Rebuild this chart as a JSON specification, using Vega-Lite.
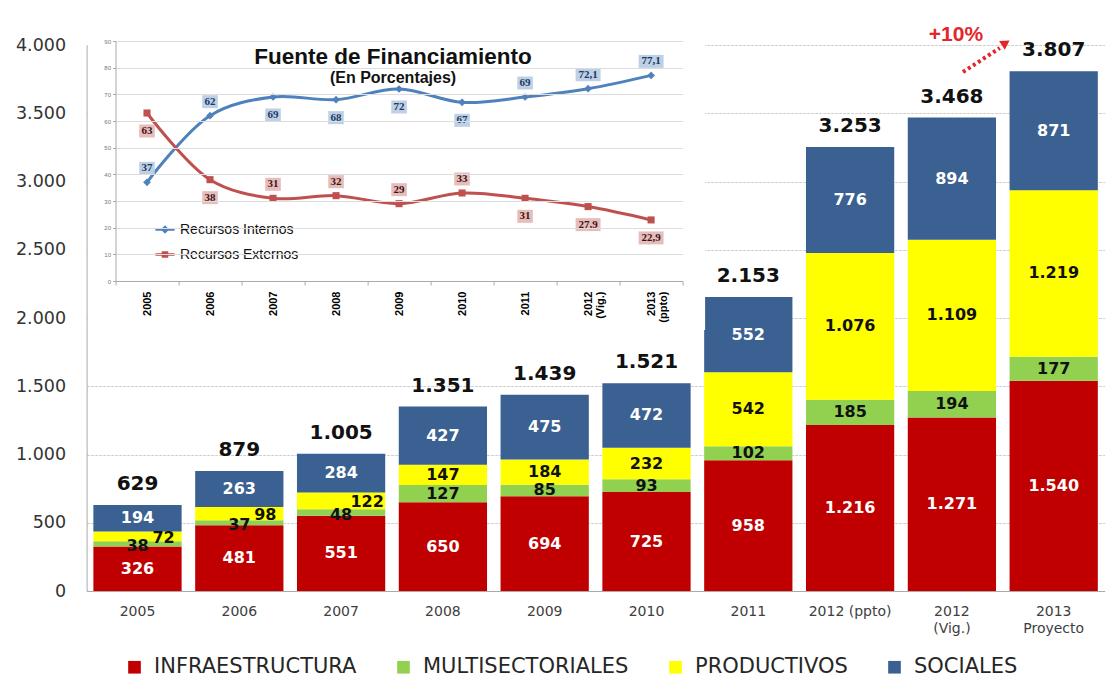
{
  "$schema": "https://vega.github.io/schema/vega-lite/v6.json",
  "width": 1018,
  "height": 546,
  "autosize": {"type": "none"},
  "padding": {"left": 86.6, "top": 45, "right": 4.4, "bottom": 88},
  "background": "white",
  "config": {
    "view": {"stroke": null},
    "axis": {"titleOpacity": 0},
    "locale": {"number": {"decimal": ",", "thousands": ".", "grouping": [3], "currency": ["", ""]}}
  },
  "datasets": {
    "sectores": [
      {"anio": "2005", "sector": "INFRAESTRUCTURA", "valor": 326},
      {"anio": "2005", "sector": "MULTISECTORIALES", "valor": 38},
      {"anio": "2005", "sector": "PRODUCTIVOS", "valor": 72},
      {"anio": "2005", "sector": "SOCIALES", "valor": 194},
      {"anio": "2006", "sector": "INFRAESTRUCTURA", "valor": 481},
      {"anio": "2006", "sector": "MULTISECTORIALES", "valor": 37},
      {"anio": "2006", "sector": "PRODUCTIVOS", "valor": 98},
      {"anio": "2006", "sector": "SOCIALES", "valor": 263},
      {"anio": "2007", "sector": "INFRAESTRUCTURA", "valor": 551},
      {"anio": "2007", "sector": "MULTISECTORIALES", "valor": 48},
      {"anio": "2007", "sector": "PRODUCTIVOS", "valor": 122},
      {"anio": "2007", "sector": "SOCIALES", "valor": 284},
      {"anio": "2008", "sector": "INFRAESTRUCTURA", "valor": 650},
      {"anio": "2008", "sector": "MULTISECTORIALES", "valor": 127},
      {"anio": "2008", "sector": "PRODUCTIVOS", "valor": 147},
      {"anio": "2008", "sector": "SOCIALES", "valor": 427},
      {"anio": "2009", "sector": "INFRAESTRUCTURA", "valor": 694},
      {"anio": "2009", "sector": "MULTISECTORIALES", "valor": 85},
      {"anio": "2009", "sector": "PRODUCTIVOS", "valor": 184},
      {"anio": "2009", "sector": "SOCIALES", "valor": 475},
      {"anio": "2010", "sector": "INFRAESTRUCTURA", "valor": 725},
      {"anio": "2010", "sector": "MULTISECTORIALES", "valor": 93},
      {"anio": "2010", "sector": "PRODUCTIVOS", "valor": 232},
      {"anio": "2010", "sector": "SOCIALES", "valor": 472},
      {"anio": "2011", "sector": "INFRAESTRUCTURA", "valor": 958},
      {"anio": "2011", "sector": "MULTISECTORIALES", "valor": 102},
      {"anio": "2011", "sector": "PRODUCTIVOS", "valor": 542},
      {"anio": "2011", "sector": "SOCIALES", "valor": 552},
      {"anio": "2012 (ppto)", "sector": "INFRAESTRUCTURA", "valor": 1216},
      {"anio": "2012 (ppto)", "sector": "MULTISECTORIALES", "valor": 185},
      {"anio": "2012 (ppto)", "sector": "PRODUCTIVOS", "valor": 1076},
      {"anio": "2012 (ppto)", "sector": "SOCIALES", "valor": 776},
      {"anio": "2012 (Vig.)", "sector": "INFRAESTRUCTURA", "valor": 1271},
      {"anio": "2012 (Vig.)", "sector": "MULTISECTORIALES", "valor": 194},
      {"anio": "2012 (Vig.)", "sector": "PRODUCTIVOS", "valor": 1109},
      {"anio": "2012 (Vig.)", "sector": "SOCIALES", "valor": 894},
      {"anio": "2013 Proyecto", "sector": "INFRAESTRUCTURA", "valor": 1540},
      {"anio": "2013 Proyecto", "sector": "MULTISECTORIALES", "valor": 177},
      {"anio": "2013 Proyecto", "sector": "PRODUCTIVOS", "valor": 1219},
      {"anio": "2013 Proyecto", "sector": "SOCIALES", "valor": 871}
    ],
    "totales": [
      {"anio": "2005", "total": 629},
      {"anio": "2006", "total": 879},
      {"anio": "2007", "total": 1005},
      {"anio": "2008", "total": 1351},
      {"anio": "2009", "total": 1439},
      {"anio": "2010", "total": 1521},
      {"anio": "2011", "total": 2153},
      {"anio": "2012 (ppto)", "total": 3253},
      {"anio": "2012 (Vig.)", "total": 3468},
      {"anio": "2013 Proyecto", "total": 3807}
    ],
    "fuente": [
      {"anio": "2005", "serie": "Recursos Internos", "pct": 37},
      {"anio": "2006", "serie": "Recursos Internos", "pct": 62},
      {"anio": "2007", "serie": "Recursos Internos", "pct": 69},
      {"anio": "2008", "serie": "Recursos Internos", "pct": 68},
      {"anio": "2009", "serie": "Recursos Internos", "pct": 72},
      {"anio": "2010", "serie": "Recursos Internos", "pct": 67},
      {"anio": "2011", "serie": "Recursos Internos", "pct": 69},
      {"anio": "2012 (Vig.)", "serie": "Recursos Internos", "pct": 72.1},
      {"anio": "2013 (ppto)", "serie": "Recursos Internos", "pct": 77.1},
      {"anio": "2005", "serie": "Recursos Externos", "pct": 63},
      {"anio": "2006", "serie": "Recursos Externos", "pct": 38},
      {"anio": "2007", "serie": "Recursos Externos", "pct": 31},
      {"anio": "2008", "serie": "Recursos Externos", "pct": 32},
      {"anio": "2009", "serie": "Recursos Externos", "pct": 29},
      {"anio": "2010", "serie": "Recursos Externos", "pct": 33},
      {"anio": "2011", "serie": "Recursos Externos", "pct": 31},
      {"anio": "2012 (Vig.)", "serie": "Recursos Externos", "pct": 27.9},
      {"anio": "2013 (ppto)", "serie": "Recursos Externos", "pct": 22.9}
    ]
  },
  "layer": [
    {
      "layer": [
        {
          "data": {"name": "sectores"},
          "transform": [
            {"calculate": "indexof(['INFRAESTRUCTURA','MULTISECTORIALES','PRODUCTIVOS','SOCIALES'], datum.sector)", "as": "orden"},
            {"stack": "valor", "groupby": ["anio"], "sort": [{"field": "orden", "order": "ascending"}], "as": ["v0", "v1"]},
            {"calculate": "(datum.v0 + datum.v1) / 2", "as": "vm"}
          ],
          "layer": [
            {
              "mark": {"type": "bar"},
              "encoding": {
                "x": {
                  "field": "anio", "type": "nominal", "title": null,
                  "scale": {"type": "band", "domain": ["2005","2006","2007","2008","2009","2010","2011","2012 (ppto)","2012 (Vig.)","2013 Proyecto"], "paddingInner": 0.133, "paddingOuter": 0.0665},
                  "axis": {"title": null, "labelAngle": 0, "ticks": false, "labelPadding": 13, "labelFont": "DejaVu Sans", "labelFontSize": 14, "labelColor": "#404040", "labelLineHeight": 17, "domainColor": "#aaaaaa", "labelExpr": "datum.value == '2012 (ppto)' ? datum.value : split(datum.value, ' ')"}
                },
                "y": {
                  "field": "v1", "type": "quantitative", "title": null,
                  "scale": {"domain": [0, 4000], "nice": false},
                  "axis": {"title": null, "values": [0,500,1000,1500,2000,2500,3000,3500,4000], "format": ",.0f", "grid": true, "gridColor": "#d0d0d0", "gridDash": [3, 1], "ticks": false, "domainColor": "#aaaaaa", "labelPadding": 21, "labelFont": "DejaVu Sans", "labelFontSize": 17.5, "labelColor": "#333333"}
                },
                "y2": {"field": "v0"},
                "color": {
                  "field": "sector", "type": "nominal",
                  "scale": {"domain": ["INFRAESTRUCTURA","MULTISECTORIALES","PRODUCTIVOS","SOCIALES"], "range": ["#c00000","#92d050","#ffff00","#3a6191"]},
                  "legend": {"orient": "none", "legendX": 37.4, "legendY": 611.5, "direction": "horizontal", "columns": 4, "title": null, "symbolType": "square", "symbolSize": 160, "symbolStrokeWidth": 0, "labelFont": "DejaVu Sans", "labelFontSize": 21, "labelColor": "#262626", "labelOffset": 9, "columnPadding": 36, "labelLimit": 400}
                }
              }
            },
            {
              "transform": [{"filter": "!(indexof(['2005','2006','2007'], datum.anio) >= 0 && (datum.sector == 'MULTISECTORIALES' || datum.sector == 'PRODUCTIVOS'))"}],
              "mark": {"type": "text", "font": "DejaVu Sans", "fontWeight": "bold", "fontSize": 16, "baseline": "middle", "align": "center"},
              "encoding": {
                "x": {"field": "anio", "type": "nominal"},
                "y": {"field": "vm", "type": "quantitative"},
                "text": {"field": "valor", "type": "quantitative", "format": ",.0f"},
                "color": {"condition": {"test": "datum.sector == 'INFRAESTRUCTURA' || datum.sector == 'SOCIALES'", "value": "#ffffff"}, "value": "#111111"}
              }
            },
            {
              "transform": [{"filter": "indexof(['2005','2006','2007'], datum.anio) >= 0 && datum.sector == 'MULTISECTORIALES'"}],
              "mark": {"type": "text", "font": "DejaVu Sans", "fontWeight": "bold", "fontSize": 16, "baseline": "middle", "align": "center", "dy": 2, "color": "#111111"},
              "encoding": {
                "x": {"field": "anio", "type": "nominal"},
                "y": {"field": "vm", "type": "quantitative"},
                "text": {"field": "valor", "type": "quantitative", "format": ",.0f"}
              }
            },
            {
              "transform": [{"filter": "indexof(['2005','2006','2007'], datum.anio) >= 0 && datum.sector == 'PRODUCTIVOS'"}],
              "mark": {"type": "text", "font": "DejaVu Sans", "fontWeight": "bold", "fontSize": 16, "baseline": "middle", "align": "center", "dx": 26, "dy": 1.5, "color": "#111111"},
              "encoding": {
                "x": {"field": "anio", "type": "nominal"},
                "y": {"field": "vm", "type": "quantitative"},
                "text": {"field": "valor", "type": "quantitative", "format": ",.0f"}
              }
            }
          ]
        },
        {
          "data": {"name": "totales"},
          "mark": {"type": "text", "font": "DejaVu Sans", "fontWeight": "bold", "fontSize": 20, "baseline": "alphabetic", "align": "center", "dy": -15, "color": "#111111"},
          "encoding": {
            "x": {"field": "anio", "type": "nominal"},
            "y": {"field": "total", "type": "quantitative"},
            "text": {"field": "total", "type": "quantitative", "format": ",.0f"}
          }
        },
        {
          "data": {"values": [{}]},
          "layer": [
            {
              "mark": {"type": "text", "text": "+10%", "font": "Liberation Sans", "fontWeight": "bold", "fontSize": 21, "color": "#e3262b", "baseline": "middle", "align": "center", "dx": 4, "dy": 2},
              "encoding": {
                "x": {"datum": "2012 (Vig.)", "type": "nominal"},
                "y": {"datum": 4088, "type": "quantitative"}
              }
            },
            {
              "mark": {"type": "rule", "color": "#e3262b", "strokeWidth": 4, "strokeDash": [3, 3]},
              "encoding": {
                "x": {"datum": "2012 (Vig.)", "type": "nominal", "bandPosition": 0.625},
                "x2": {"datum": "2012 (Vig.)", "bandPosition": 1.043},
                "y": {"datum": 3802, "type": "quantitative"},
                "y2": {"datum": 3978}
              }
            },
            {
              "mark": {"type": "point", "shape": "triangle-right", "filled": true, "opacity": 1, "color": "#e3262b", "size": 110, "angle": -33},
              "encoding": {
                "x": {"datum": "2012 (Vig.)", "type": "nominal", "bandPosition": 1.11},
                "y": {"datum": 4015, "type": "quantitative"}
              }
            }
          ]
        }
      ]
    },
    {
      "data": {"name": "fuente"},
      "layer": [
        {
          "data": {"values": [{}]},
          "mark": {"type": "rect", "fill": "#ffffff"},
          "encoding": {
            "x": {
              "datum": "2005", "type": "nominal", "bandPosition": -0.437, "title": null,
              "scale": {"type": "band", "domain": ["2005","2006","2007","2008","2009","2010","2011","2012 (Vig.)","2013 (ppto)"], "range": [28.9, 596], "paddingInner": 0, "paddingOuter": 0},
              "axis": {"title": null, "orient": "bottom", "offset": -310, "zindex": 1, "labelAngle": -90, "labelExpr": "datum.value ? split(datum.value, ' ') : ''", "labelFont": "Liberation Sans", "labelFontWeight": "bold", "labelFontSize": 11, "labelColor": "#000000", "labelPadding": 6, "labelLineHeight": 12, "tickBand": "extent", "tickSize": 4, "tickColor": "#aaaaaa", "domainColor": "#aaaaaa"}
            },
            "x2": {"datum": "2013 (ppto)", "bandPosition": 1.357},
            "y": {
              "datum": -18.4, "type": "quantitative", "title": null,
              "scale": {"domain": [0, 90], "range": [236, -4], "nice": false, "zero": false},
              "axis": {"title": null, "orient": "left", "offset": -28.9, "zindex": 1, "values": [0,10,20,30,40,50,60,70,80,90], "grid": true, "gridColor": "#dddddd", "tickSize": 3, "tickColor": "#aaaaaa", "domainColor": "#aaaaaa", "labelFontSize": 6, "labelColor": "#777777", "labelPadding": 2}
            },
            "y2": {"datum": 97}
          }
        },
        {
          "transform": [{"filter": "datum.serie == 'Recursos Internos'"}],
          "mark": {"type": "line", "color": "#4f81bd", "strokeWidth": 3, "interpolate": "catmull-rom"},
          "encoding": {"x": {"field": "anio", "type": "nominal", "title": null}, "y": {"field": "pct", "type": "quantitative", "title": null}}
        },
        {
          "transform": [{"filter": "datum.serie == 'Recursos Externos'"}],
          "mark": {"type": "line", "color": "#c0504d", "strokeWidth": 3, "interpolate": "catmull-rom"},
          "encoding": {"x": {"field": "anio", "type": "nominal", "title": null}, "y": {"field": "pct", "type": "quantitative", "title": null}}
        },
        {
          "transform": [{"filter": "datum.serie == 'Recursos Internos'"}],
          "mark": {"type": "point", "shape": "diamond", "filled": true, "opacity": 1, "color": "#4f81bd", "size": 60},
          "encoding": {"x": {"field": "anio", "type": "nominal", "title": null}, "y": {"field": "pct", "type": "quantitative", "title": null}}
        },
        {
          "transform": [{"filter": "datum.serie == 'Recursos Externos'"}],
          "mark": {"type": "point", "shape": "square", "filled": true, "opacity": 1, "color": "#c0504d", "size": 50},
          "encoding": {"x": {"field": "anio", "type": "nominal", "title": null}, "y": {"field": "pct", "type": "quantitative", "title": null}}
        },
        {
          "transform": [{"filter": "(datum.serie == 'Recursos Internos') == (indexof(['2007','2008','2009','2010'], datum.anio) < 0)"}],
          "mark": {"type": "point", "filled": true, "opacity": 0.95, "strokeWidth": 0, "size": 169, "yOffset": -14},
          "encoding": {
            "x": {"field": "anio", "type": "nominal", "title": null},
            "y": {"field": "pct", "type": "quantitative", "title": null},
            "shape": {"condition": {"test": "datum.pct % 1 != 0", "value": "M-1.92,-1L1.92,-1L1.92,1L-1.92,1Z"}, "value": "M-1.2,-1L1.2,-1L1.2,1L-1.2,1Z"},
            "color": {"condition": {"test": "datum.serie == 'Recursos Internos'", "value": "#b9cde5"}, "value": "#e6b9b8"}
          }
        },
        {
          "transform": [{"filter": "(datum.serie == 'Recursos Internos') == (indexof(['2007','2008','2009','2010'], datum.anio) < 0)"}],
          "mark": {"type": "text", "font": "Liberation Serif", "fontWeight": "bold", "fontSize": 11, "baseline": "middle", "align": "center", "dy": -14},
          "encoding": {
            "x": {"field": "anio", "type": "nominal", "title": null},
            "y": {"field": "pct", "type": "quantitative", "title": null},
            "text": {"field": "pct", "type": "quantitative", "format": ".1~f"},
            "color": {"condition": {"test": "datum.serie == 'Recursos Internos'", "value": "#203864"}, "value": "#3d1514"}
          }
        },
        {
          "transform": [{"filter": "(datum.serie == 'Recursos Internos') != (indexof(['2007','2008','2009','2010'], datum.anio) < 0)"}],
          "mark": {"type": "point", "filled": true, "opacity": 0.95, "strokeWidth": 0, "size": 169, "yOffset": 18},
          "encoding": {
            "x": {"field": "anio", "type": "nominal", "title": null},
            "y": {"field": "pct", "type": "quantitative", "title": null},
            "shape": {"condition": {"test": "datum.pct % 1 != 0", "value": "M-1.92,-1L1.92,-1L1.92,1L-1.92,1Z"}, "value": "M-1.2,-1L1.2,-1L1.2,1L-1.2,1Z"},
            "color": {"condition": {"test": "datum.serie == 'Recursos Internos'", "value": "#b9cde5"}, "value": "#e6b9b8"}
          }
        },
        {
          "transform": [{"filter": "(datum.serie == 'Recursos Internos') != (indexof(['2007','2008','2009','2010'], datum.anio) < 0)"}],
          "mark": {"type": "text", "font": "Liberation Serif", "fontWeight": "bold", "fontSize": 11, "baseline": "middle", "align": "center", "dy": 18},
          "encoding": {
            "x": {"field": "anio", "type": "nominal", "title": null},
            "y": {"field": "pct", "type": "quantitative", "title": null},
            "text": {"field": "pct", "type": "quantitative", "format": ".1~f"},
            "color": {"condition": {"test": "datum.serie == 'Recursos Internos'", "value": "#203864"}, "value": "#3d1514"}
          }
        },
        {
          "data": {"values": [{}]},
          "layer": [
            {
              "mark": {"type": "text", "text": "Fuente de Financiamiento", "font": "Liberation Sans", "fontWeight": "bold", "fontSize": 22.5, "color": "#111111", "baseline": "middle", "align": "center", "dx": -6},
              "encoding": {"x": {"datum": "2009", "type": "nominal", "title": null}, "y": {"datum": 84, "type": "quantitative", "title": null}}
            },
            {
              "mark": {"type": "text", "text": "(En Porcentajes)", "font": "Liberation Sans", "fontWeight": "bold", "fontSize": 16, "color": "#111111", "baseline": "middle", "align": "center", "dx": -6},
              "encoding": {"x": {"datum": "2009", "type": "nominal", "title": null}, "y": {"datum": 76, "type": "quantitative", "title": null}}
            }
          ]
        },
        {
          "transform": [{"filter": "false"}],
          "mark": {"type": "point", "filled": true, "opacity": 1},
          "encoding": {
            "x": {"field": "anio", "type": "nominal", "title": null},
            "y": {"field": "pct", "type": "quantitative", "title": null},
            "color": {
              "field": "serie", "type": "nominal",
              "scale": {"domain": ["Recursos Internos", "Recursos Externos"], "range": ["#4f81bd", "#c0504d"]},
              "legend": {"orient": "none", "legendX": 71.4, "legendY": 177.5, "direction": "vertical", "title": null, "symbolSize": 144, "labelFont": "Liberation Sans", "labelFontSize": 14, "labelColor": "#111111", "labelOffset": 8, "rowPadding": 11, "symbolStrokeWidth": 0}
            },
            "shape": {
              "field": "serie", "type": "nominal",
              "scale": {"domain": ["Recursos Internos", "Recursos Externos"], "range": ["M-1.6,-0.22L1.6,-0.22L1.6,0.22L-1.6,0.22Z M0,-0.7L0.7,0L0,0.7L-0.7,0Z", "M-1.6,-0.22L1.6,-0.22L1.6,0.22L-1.6,0.22Z M-0.55,-0.55L0.55,-0.55L0.55,0.55L-0.55,0.55Z"]},
              "legend": {"orient": "none", "legendX": 71.4, "legendY": 177.5, "direction": "vertical", "title": null, "symbolSize": 144, "labelFont": "Liberation Sans", "labelFontSize": 14, "labelColor": "#111111", "labelOffset": 8, "rowPadding": 11, "symbolStrokeWidth": 0}
            }
          }
        }
      ]
    }
  ],
  "resolve": {
    "scale": {"x": "independent", "y": "independent", "color": "independent", "shape": "independent"},
    "axis": {"x": "independent", "y": "independent"},
    "legend": {"color": "independent", "shape": "independent"}
  }
}
